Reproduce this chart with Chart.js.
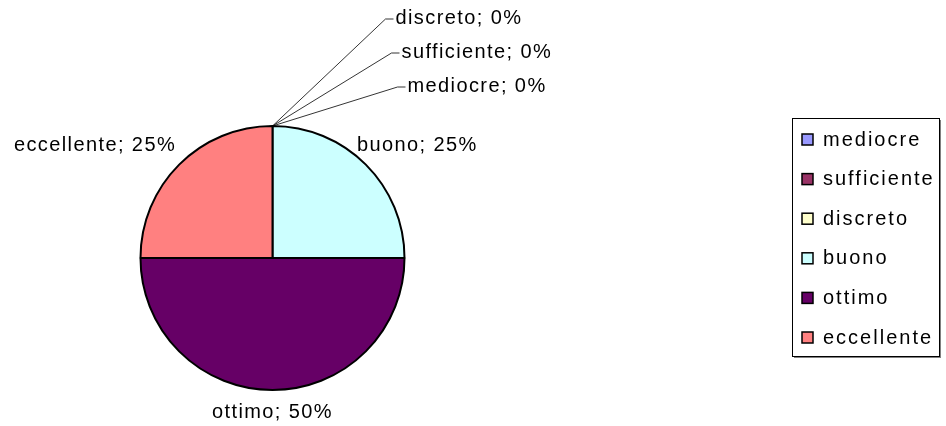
<!DOCTYPE html>
<html>
<head>
<meta charset="utf-8">
<script src="https://cdn.jsdelivr.net/npm/chart.js@4/dist/chart.umd.min.js"></script>
<style>
  body { margin: 0; background: #fff; }
  canvas { display: block; }
</style>
</head>
<body>
<canvas id="myGrafic" width="946" height="426"></canvas>
<script>
var categorie = ['mediocre', 'sufficiente', 'discreto', 'buono', 'ottimo', 'eccellente'];
var valori = [0, 0, 0, 1, 2, 1];
var colori = ['#9999FF', '#993366', '#FFFFCC', '#CCFFFF', '#660066', '#FF8080'];

var fontTesto = '20px "Liberation Sans", Arial, sans-serif';

function percentuale(i) {
    var tot = valori.reduce((a, b) => a + b, 0);
    return Math.round(valori[i] / tot * 100) + '%';
}

// etichette delle fette, con linee guida per quelle a zero
const etichettePlugin = {
    id: 'etichette',
    afterDatasetsDraw(chart) {
        const ctx = chart.ctx;
        const meta = chart.getDatasetMeta(0);
        ctx.save();
        ctx.font = fontTesto;
        ctx.letterSpacing = '1.4px';
        ctx.fillStyle = '#000';
        ctx.strokeStyle = '#000';
        ctx.lineWidth = 0.8;
        ctx.textBaseline = 'middle';
        let k = 0;
        meta.data.forEach((arc, i) => {
            const p = arc.getProps(['x', 'y', 'startAngle', 'endAngle', 'outerRadius'], true);
            const testo = categorie[i] + '; ' + percentuale(i);
            const mid = (p.startAngle + p.endAngle) / 2;
            const dx = Math.cos(mid), dy = Math.sin(mid);
            if (valori[i] === 0) {
                const ax = p.x + dx * p.outerRadius;
                const ay = p.y + dy * p.outerRadius;
                const ty = ay - 40 - k * 34;
                const tx = p.x + 135 - k * 6;
                ctx.beginPath();
                ctx.moveTo(ax, ay);
                ctx.lineTo(tx - 10, ty + 1);
                ctx.lineTo(tx - 2, ty + 1);
                ctx.stroke();
                ctx.textAlign = 'left';
                ctx.fillText(testo, tx, ty);
                k++;
                return;
            }
            const r = p.outerRadius + 10;
            const ax = p.x + dx * r;
            const ay = p.y + dy * r;
            const ty = ay + Math.sign(dy) * 12;
            if (dx > 0.1) {
                ctx.textAlign = 'left';
                ctx.fillText(testo, ax - 16, ty);
            } else if (dx < -0.1) {
                ctx.textAlign = 'right';
                ctx.fillText(testo, ax + 4, ty);
            } else {
                ctx.textAlign = 'center';
                ctx.fillText(testo, ax, ty);
            }
        });
        ctx.restore();
    }
};

// legenda con cornice, come in Excel
const legendaPlugin = {
    id: 'legenda',
    afterDraw(chart) {
        const ctx = chart.ctx;
        const x0 = 792, y0 = 118, w = 147, h = 238;
        const passo = 39.6;
        ctx.save();
        ctx.fillStyle = '#808080';
        ctx.fillRect(x0 + 2, y0 + 2, w, h);
        ctx.fillStyle = '#fff';
        ctx.fillRect(x0, y0, w, h);
        ctx.strokeStyle = '#000';
        ctx.lineWidth = 1;
        ctx.strokeRect(x0 + 0.5, y0 + 0.5, w, h);
        ctx.font = fontTesto;
        ctx.letterSpacing = '2px';
        ctx.textBaseline = 'middle';
        ctx.textAlign = 'left';
        categorie.forEach((c, i) => {
            const y = y0 + 22 + i * passo;
            ctx.fillStyle = colori[i];
            ctx.fillRect(802, y - 6, 11, 11);
            ctx.lineWidth = 1.5;
            ctx.strokeRect(802, y - 6, 11, 11);
            ctx.fillStyle = '#000';
            ctx.fillText(c, 823, y);
        });
        ctx.restore();
    }
};

var ctx = document.getElementById('myGrafic').getContext('2d');
var myPieChart = new Chart(ctx, {
    type: 'pie',
    data: {
        labels: categorie,
        datasets: [{
            data: valori,
            backgroundColor: colori,
            borderColor: '#000',
            borderWidth: 2,
            borderAlign: 'center'
        }]
    },
    options: {
        responsive: false,
        animation: false,
        layout: {
            padding: { left: 139, right: 540, top: 125, bottom: 35 }
        },
        plugins: {
            legend: { display: false },
            tooltip: { enabled: false }
        }
    },
    plugins: [etichettePlugin, legendaPlugin]
});
</script>
</body>
</html>
